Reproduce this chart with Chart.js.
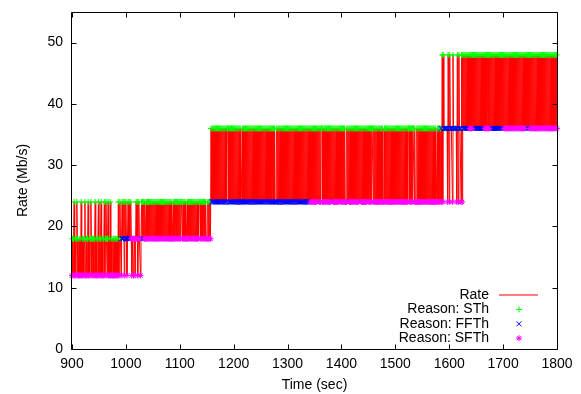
<!DOCTYPE html>
<html>
<head>
<meta charset="utf-8">
<script src="https://cdn.jsdelivr.net/npm/chart.js@4.4.1/dist/chart.umd.min.js"></script>
<style>
  html, body { margin: 0; padding: 0; background: #fff; }
  canvas { display: block; }
</style>
</head>
<body>
<canvas id="rateChart" width="581" height="394"></canvas>
<script>
// Rate samples, one every second from t = 900 s
var sampleStart = 900;
var sampleStep = 1;

// Rate (Mb/s), rows of 20 samples
var rateMbps = [
  12,18,12,18,24,12,18,12,18,24,18,12,12,18,12,18,12,24,12,18, // 900
  12,18,12,18,24,12,12,18,12,18,24,12,18,12,18,24,18,12,18,12, // 920
  18,12,18,24,12,18,12,12,18,24,12,18,12,18,24,12,18,12,12,18, // 940
  24,12,18,24,18,12,18,24,12,18,12,24,12,18,12,12,18,12,18,12, // 960
  18,12,18,12,18,12,24,12,18,24,18,12,18,24,18,18,24,12,24,18, // 980
  24,18,12,18,24,18,24,18,18,24,18,12,18,18,12,18,18,12,18,24, // 1000
  18,24,12,18,24,18,18,12,18,24,18,24,18,24,18,24,18,18,24,18, // 1020
  24,18,24,18,24,18,24,18,24,18,24,18,24,18,24,18,24,18,24,18, // 1040
  24,18,24,18,24,18,24,18,24,18,24,18,24,18,24,18,24,18,24,18, // 1060
  24,18,24,18,24,18,18,18,24,18,24,18,24,18,24,18,24,18,24,18, // 1080
  24,18,24,24,24,18,24,18,24,18,24,18,18,18,24,18,24,18,24,18, // 1100
  24,18,24,18,24,18,24,18,24,18,24,18,24,18,24,18,24,24,24,18, // 1120
  24,18,24,18,24,18,24,18,24,18,18,18,24,18,24,18,24,18,36,24, // 1140
  36,24,36,24,36,24,36,24,36,24,36,24,36,24,36,24,36,24,36,24, // 1160
  36,24,36,24,36,24,36,24,36,36,36,24,36,24,36,24,36,24,36,24, // 1180
  36,24,36,24,36,24,36,24,36,24,36,24,36,24,24,24,36,24,36,24, // 1200
  36,24,36,24,36,24,36,24,36,24,36,24,36,24,36,24,36,24,36,24, // 1220
  36,24,36,24,36,24,36,24,36,24,36,24,36,24,36,24,36,24,36,24, // 1240
  36,24,36,24,36,24,36,24,36,24,36,24,36,24,36,24,36,24,24,24, // 1260
  36,24,36,24,36,24,36,24,36,24,36,24,36,24,36,24,36,24,36,24, // 1280
  36,24,36,24,36,24,36,24,36,24,36,24,36,24,36,24,36,24,36,24, // 1300
  36,24,36,24,36,24,36,24,36,24,36,24,36,24,36,24,36,24,36,24, // 1320
  36,24,36,24,36,24,36,24,36,24,36,24,36,24,36,24,36,24,36,24, // 1340
  36,24,36,36,36,24,36,24,36,24,36,24,36,24,36,24,36,24,36,24, // 1360
  36,24,36,24,36,24,36,24,36,24,36,24,36,24,36,24,36,24,36,24, // 1380
  36,24,36,24,36,24,36,24,24,24,36,24,36,24,36,24,36,24,36,24, // 1400
  36,24,36,24,36,24,36,24,36,24,36,24,36,24,36,24,36,24,36,24, // 1420
  36,24,36,24,36,24,36,24,36,24,36,24,36,24,36,24,36,36,36,24, // 1440
  36,24,36,24,36,24,36,24,36,24,36,24,36,24,36,24,36,24,24,24, // 1460
  36,24,36,24,36,24,36,24,36,24,36,24,36,24,36,24,36,24,36,24, // 1480
  36,24,36,24,36,24,36,24,36,24,36,24,36,24,36,24,36,24,36,24, // 1500
  36,24,36,24,36,36,36,24,36,24,36,24,36,36,36,24,36,24,24,24, // 1520
  36,24,36,24,36,24,36,24,36,24,36,24,36,24,36,24,36,24,36,24, // 1540
  36,24,36,24,36,24,36,24,36,24,36,24,36,24,36,24,24,24,36,24, // 1560
  36,24,36,24,36,36,24,48,24,48,36,36,36,36,36,36,36,24,48,36, // 1580
  24,48,36,36,36,36,24,48,36,36,36,36,36,36,24,48,36,24,48,36, // 1600
  36,36,24,48,24,48,36,48,36,48,36,48,36,48,36,48,36,48,36,48, // 1620
  36,48,36,48,36,48,36,48,36,48,36,48,36,48,36,48,36,48,36,48, // 1640
  36,48,36,48,36,48,36,48,36,48,36,48,36,48,36,48,36,48,36,48, // 1660
  36,48,36,48,36,48,36,48,36,48,36,48,36,48,36,48,36,48,36,48, // 1680
  36,48,36,48,36,48,36,48,36,48,36,48,36,48,36,48,36,48,36,48, // 1700
  36,48,36,48,36,48,36,48,36,48,36,48,36,48,36,48,36,48,36,48, // 1720
  36,48,36,48,36,48,36,48,36,48,36,48,36,48,36,48,36,48,36,48, // 1740
  36,48,36,48,36,48,36,48,36,48,36,48,36,48,36,48,36,48,36,48, // 1760
  36,48,36,48,36,48,36,48,36,48,36,48,36,48,36,48,36,48,36,48, // 1780
  36                                                            // 1800
];

// Reason of each sample: S = STh, F = FFTh, W = SFTh (same rows)
var reasonRows = [
  'WSWSSWSWSSSWWSWSWSWS', 'WSWSSWWSWSSWSWSSSWSW', 'SWSSWSWWSSWSWSSWSWWS',
  'SWSSSWSSWSWSWSWWSWSW', 'SWSWSWSWSSSWFSFFSWSF', 'SFWFSFSFFSWWWWWWWWWS',
  'WSWWSWFWFSFSFSWSWWSW', 'SWSWSWSWSWSWSWSWSWSW', 'SWSWSWSWSWSWSWSWSWSW',
  'SWSWSWWWSWSWSWSWSWSW', 'SWSSSWSWSWSWWWSWSWSW', 'SWSWSWSWSWSWSWSWSSSW',
  'SWSWSWSWSWWWSWSWSWSF', 'SFSFSFSFSFSFSFSFSFSF', 'SFSFSFSFSSSFSFSFSFSF',
  'SFSFSFSFSFSFSFFFSFSF', 'SFSFSFSFSFSFSFSFSFSF', 'SFSFSFSFSFSFSFSFSFSF',
  'SFSFSFSFSFSFSFSFSFFF', 'SFSFSFSFSFSFSFSFSFSF', 'SFSFSFSFSFSFSFSFSFSF',
  'SFSFSFSFSFSFSFSFSFSF', 'SFSWSWSWSWSWSWSFSFSW', 'SWSSSWSWSWSWSWSWSWSW',
  'SFSFSWSWSWSWSWSWSFSW', 'SWSWSWSWWWSFSFSWSWSW', 'SWSWSWSWSWSWSFSFSWSW',
  'SWSWSWSWSFSWSWSWSSSW', 'SWSWSWSWSWSWSWSWSWWW', 'SWSWSWSWSWSWSWSWSWSW',
  'SWSWSWSWSWSWSWSWSWSW', 'SWSWSSSWSWSWSSSWSWWW', 'SWSWSWSWSWSWSWSWSWSW',
  'SWSWSWSWSWSWSWSWWWSW', 'SWSWSFWSWSFSFFSFFWSF', 'WSFSFFWSFSFFSFWSFWSF',
  'SFWSWSFSFSFSFSFSFSWS', 'WSWSFSFSFSFSFSFSFSFS', 'FSFSFSWSWSWSWSWSFSFS',
  'FSFSFSFSFSFSFSFSFSFS', 'FSWSWSWSWSWSWSWSWSWS', 'WSWSWSWSWSWSWSWSWSWS',
  'WSFSFSFSFSWSWSWSWSWS', 'WSWSWSWSWSWSWSWSWSWS', 'WSWSWSWSWSWSWSWSWSWS',
  'W'
];

var xTicks = [900, 1000, 1100, 1200, 1300, 1400, 1500, 1600, 1700, 1800];
var yTicks = [0, 10, 20, 30, 40, 50];

var legendLabels = ['Rate', 'Reason: STh', 'Reason: FFTh', 'Reason: SFTh'];
var legendColors = ['#ff0000', '#00ff00', '#0000ff', '#ff00ff'];

var reasons = reasonRows.join('').split('');
if (reasons.length !== rateMbps.length) {
    throw new Error('reasons ' + reasons.length + ' vs rate ' + rateMbps.length);
}

var ratePoints = rateMbps.map(function (v, i) {
    return { x: sampleStart + i * sampleStep, y: v };
});

function reasonPoints(code) {
    return ratePoints.filter(function (p, i) { return reasons[i] === code; });
}

var font = { family: '"Liberation Sans", Arial, sans-serif', size: 14 };

// gnuplot style frame: box round the plot, inward ticks, key at bottom right
var framePlugin = {
    id: 'frame',
    afterDraw: function (chart) {
        var ctx = chart.ctx;
        var a = chart.chartArea;
        var xs = chart.scales.x;
        var ys = chart.scales.y;
        var l = Math.round(a.left) - 0.5, r = Math.round(a.right) + 0.5;
        var t = Math.round(a.top) + 0.5, b = Math.round(a.bottom) + 0.5;
        ctx.save();
        ctx.strokeStyle = '#000';
        ctx.lineWidth = 1;
        ctx.beginPath();
        ctx.rect(l, t, r - l, b - t);
        xTicks.forEach(function (v) {
            var px = Math.round(xs.getPixelForValue(v)) + 0.5;
            ctx.moveTo(px, b); ctx.lineTo(px, b - 5);
            ctx.moveTo(px, t); ctx.lineTo(px, t + 5);
        });
        yTicks.forEach(function (v) {
            var py = Math.round(ys.getPixelForValue(v)) + 0.5;
            ctx.moveTo(l, py); ctx.lineTo(l + 5, py);
            ctx.moveTo(r, py); ctx.lineTo(r - 5, py);
        });
        ctx.stroke();

        var ds = chart.data.datasets;
        var textRight = a.right - 68;
        var sampleX = a.right - 38;
        var rowY = a.bottom - 54;
        ctx.font = font.size + 'px ' + font.family;
        ctx.textAlign = 'right';
        ctx.textBaseline = 'middle';
        legendLabels.forEach(function (label, i) {
            var y = rowY + i * 14.4;
            ctx.fillStyle = '#000';
            ctx.fillText(label, textRight, y);
            ctx.strokeStyle = legendColors[i];
            ctx.lineWidth = 1;
            if (i === 0) {
                ctx.beginPath();
                ctx.moveTo(textRight + 10, Math.round(y));
                ctx.lineTo(textRight + 49, Math.round(y));
                ctx.stroke();
            } else {
                Chart.helpers.drawPoint(ctx, {
                    pointStyle: ds[i].pointStyle,
                    radius: ds[i].pointRadius,
                    rotation: 0,
                    borderWidth: 1
                }, sampleX, y);
            }
        });
        ctx.restore();
    }
};

new Chart(document.getElementById('rateChart').getContext('2d'), {
    type: 'line',
    data: {
        datasets: [{
            label: legendLabels[0],
            data: ratePoints,
            borderColor: legendColors[0],
            borderWidth: 1,
            pointRadius: 0,
            tension: 0,
            order: 4
        }, {
            label: legendLabels[1],
            data: reasonPoints('S'),
            showLine: false,
            pointStyle: 'cross',
            pointRadius: 3,
            borderColor: legendColors[1],
            pointBorderWidth: 1,
            clip: false,
            order: 3
        }, {
            label: legendLabels[2],
            data: reasonPoints('F'),
            showLine: false,
            pointStyle: 'crossRot',
            pointRadius: 3.5,
            borderColor: legendColors[2],
            pointBorderWidth: 1,
            clip: false,
            order: 2
        }, {
            label: legendLabels[3],
            data: reasonPoints('W'),
            showLine: false,
            pointStyle: 'star',
            pointRadius: 3,
            borderColor: legendColors[3],
            pointBorderWidth: 1,
            clip: false,
            order: 1
        }]
    },
    options: {
        responsive: false,
        animation: false,
        devicePixelRatio: 1,
        layout: { padding: { top: 12, right: 24, left: 0, bottom: 0 } },
        plugins: { legend: { display: false }, tooltip: { enabled: false } },
        scales: {
            x: {
                type: 'linear',
                min: 900,
                max: 1800,
                ticks: {
                    stepSize: 100, color: '#000', font: font, padding: 7, maxRotation: 0,
                    callback: function (v) { return String(v); }
                },
                grid: { display: false, drawTicks: false },
                border: { display: false },
                title: { display: true, text: 'Time (sec)', color: '#000', font: font, padding: { top: 1, bottom: 0 } },
                afterFit: function (s) { s.height = 45; s.paddingLeft = 0; s.paddingRight = 0; }
            },
            y: {
                min: 0,
                max: 55,
                ticks: {
                    stepSize: 10, color: '#000', font: font, padding: 9,
                    callback: function (v) { return String(v); }
                },
                afterBuildTicks: function (s) {
                    s.ticks = s.ticks.filter(function (t) { return yTicks.indexOf(t.value) >= 0; });
                },
                grid: { display: false, drawTicks: false },
                border: { display: false },
                title: { display: true, text: 'Rate (Mb/s)', color: '#000', font: font, padding: { top: 15, bottom: 0 } },
                afterFit: function (s) { s.width = 72; s.paddingTop = 0; s.paddingBottom = 0; }
            }
        }
    },
    plugins: [framePlugin]
});
</script>
</body>
</html>
